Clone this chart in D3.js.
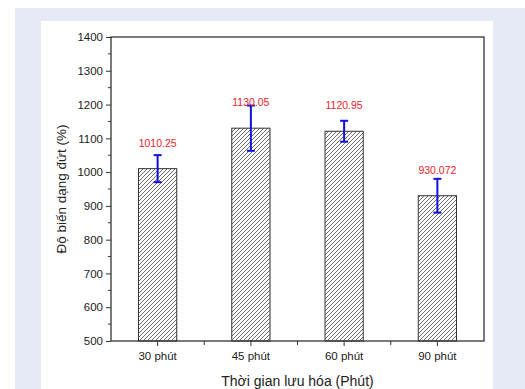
<!DOCTYPE html>
<html>
<head>
<meta charset="utf-8">
<script src="https://cdn.jsdelivr.net/npm/d3@7"></script>
<style>
  body { margin:0; background:#fff; }
  svg { display:block; font-family:"Liberation Sans", Arial, sans-serif; }
</style>
</head>
<body>
<div id="chart"></div>
<script>
var categories = ["30 phút", "45 phút", "60 phút", "90 phút"];
var values = [1010.25, 1130.05, 1120.95, 930.072];
var valueLabels = ["1010.25", "1130.05", "1120.95", "930.072"];
var errors = [40, 67, 31, 50];
var yTicks = [500, 600, 700, 800, 900, 1000, 1100, 1200, 1300, 1400];

var width = 525, height = 389;
var margin = {top:37, right:41, bottom:48, left:111};
var plotWidth = width - margin.left - margin.right;
var plotHeight = height - margin.top - margin.bottom;

var svg = d3.select("#chart").append("svg")
    .attr("width", width).attr("height", height);

// backgrounds
svg.append("rect").attr("x",15).attr("y",8).attr("width",width-15).attr("height",height-8)
    .attr("fill","#e6eaf6");
svg.append("rect").attr("x",41).attr("y",21).attr("width",452).attr("height",height-21)
    .attr("fill","#fff");

var defs = svg.append("defs");
var pat = defs.append("pattern").attr("id","hatch")
    .attr("patternUnits","userSpaceOnUse").attr("width",4).attr("height",4);
pat.append("rect").attr("width",4).attr("height",4).attr("fill","#fff");
pat.append("path").attr("d","M-1,1 l2,-2 M0,4 l4,-4 M3,5 l2,-2")
    .attr("stroke","#555").attr("stroke-width",0.85);

var xs = d3.scaleBand().domain(categories).range([0, plotWidth]).paddingInner(0.59).paddingOuter(0.295);
var xb = d3.scaleBand().domain(categories).range([0, plotWidth]);
var ys = d3.scaleLinear().domain([500, 1400]).range([plotHeight, 0]);

var g = svg.append("g").attr("transform","translate("+margin.left+","+margin.top+")");

// bars
g.selectAll("rect.bar").data(values).enter().append("rect")
    .attr("class","bar")
    .attr("x", function(d,i){ return xs(categories[i]); })
    .attr("y", function(d){ return ys(d); })
    .attr("width", xs.bandwidth())
    .attr("height", function(d){ return plotHeight - ys(d); })
    .attr("fill","url(#hatch)")
    .attr("stroke","#333").attr("stroke-width",1);

// error bars
var eb = g.selectAll("g.err").data(values).enter().append("g").attr("class","err")
    .attr("stroke","#1010e0").attr("stroke-width",2);
eb.append("line")
    .attr("x1", function(d,i){ return xb(categories[i]) + xb.bandwidth()/2; })
    .attr("x2", function(d,i){ return xb(categories[i]) + xb.bandwidth()/2; })
    .attr("y1", function(d,i){ return ys(d + errors[i]); })
    .attr("y2", function(d,i){ return ys(d - errors[i]); });
[1,-1].forEach(function(s){
  eb.append("line")
    .attr("x1", function(d,i){ return xb(categories[i]) + xb.bandwidth()/2 - 4; })
    .attr("x2", function(d,i){ return xb(categories[i]) + xb.bandwidth()/2 + 4; })
    .attr("y1", function(d,i){ return ys(d + s*errors[i]); })
    .attr("y2", function(d,i){ return ys(d + s*errors[i]); });
});

// value labels
g.selectAll("text.val").data(values).enter().append("text")
    .attr("class","val")
    .attr("x", function(d,i){ return xb(categories[i]) + xb.bandwidth()/2; })
    .attr("y", function(d){ return ys(d) - 22; })
    .attr("text-anchor","middle")
    .attr("fill","#e8242c").attr("font-size",10.5)
    .text(function(d,i){ return valueLabels[i]; });

// frame
g.append("rect").attr("width",plotWidth).attr("height",plotHeight)
    .attr("fill","none").attr("stroke","#333").attr("stroke-width",1.3);

// y axis
var yAxis = g.append("g").call(d3.axisLeft(ys).tickValues(yTicks).tickFormat(d3.format("d"))
    .tickSize(5).tickPadding(3));
yAxis.select(".domain").remove();
yAxis.selectAll("line").attr("stroke","#333");
yAxis.selectAll("text").attr("font-size",11.5).attr("fill","#222");
var minorY = d3.range(550, 1400, 100);
g.selectAll("line.minory").data(minorY).enter().append("line")
    .attr("x1",-3).attr("x2",0)
    .attr("y1", function(d){ return ys(d); }).attr("y2", function(d){ return ys(d); })
    .attr("stroke","#333");

// x axis
var xAxis = g.append("g").attr("transform","translate(0,"+plotHeight+")")
    .call(d3.axisBottom(xb).tickSize(5).tickPadding(6));
xAxis.select(".domain").remove();
xAxis.selectAll("line").attr("stroke","#333");
xAxis.selectAll("text").attr("font-size",11.5).attr("fill","#222");
g.selectAll("line.minorx").data(categories.slice(1)).enter().append("line")
    .attr("x1", function(d){ return xb(d); }).attr("x2", function(d){ return xb(d); })
    .attr("y1", plotHeight).attr("y2", plotHeight + 4)
    .attr("stroke","#333");

// titles
svg.append("text")
    .attr("x", margin.left + plotWidth/2).attr("y", 386)
    .attr("text-anchor","middle").attr("font-size",14).attr("fill","#222")
    .text("Thời gian lưu hóa (Phút)");
svg.append("text")
    .attr("transform","translate(66,"+(margin.top + plotHeight/2)+") rotate(-90)")
    .attr("text-anchor","middle").attr("font-size",13.5).attr("fill","#222")
    .text("Độ biến dạng đứt (%)");
</script>
</body>
</html>
